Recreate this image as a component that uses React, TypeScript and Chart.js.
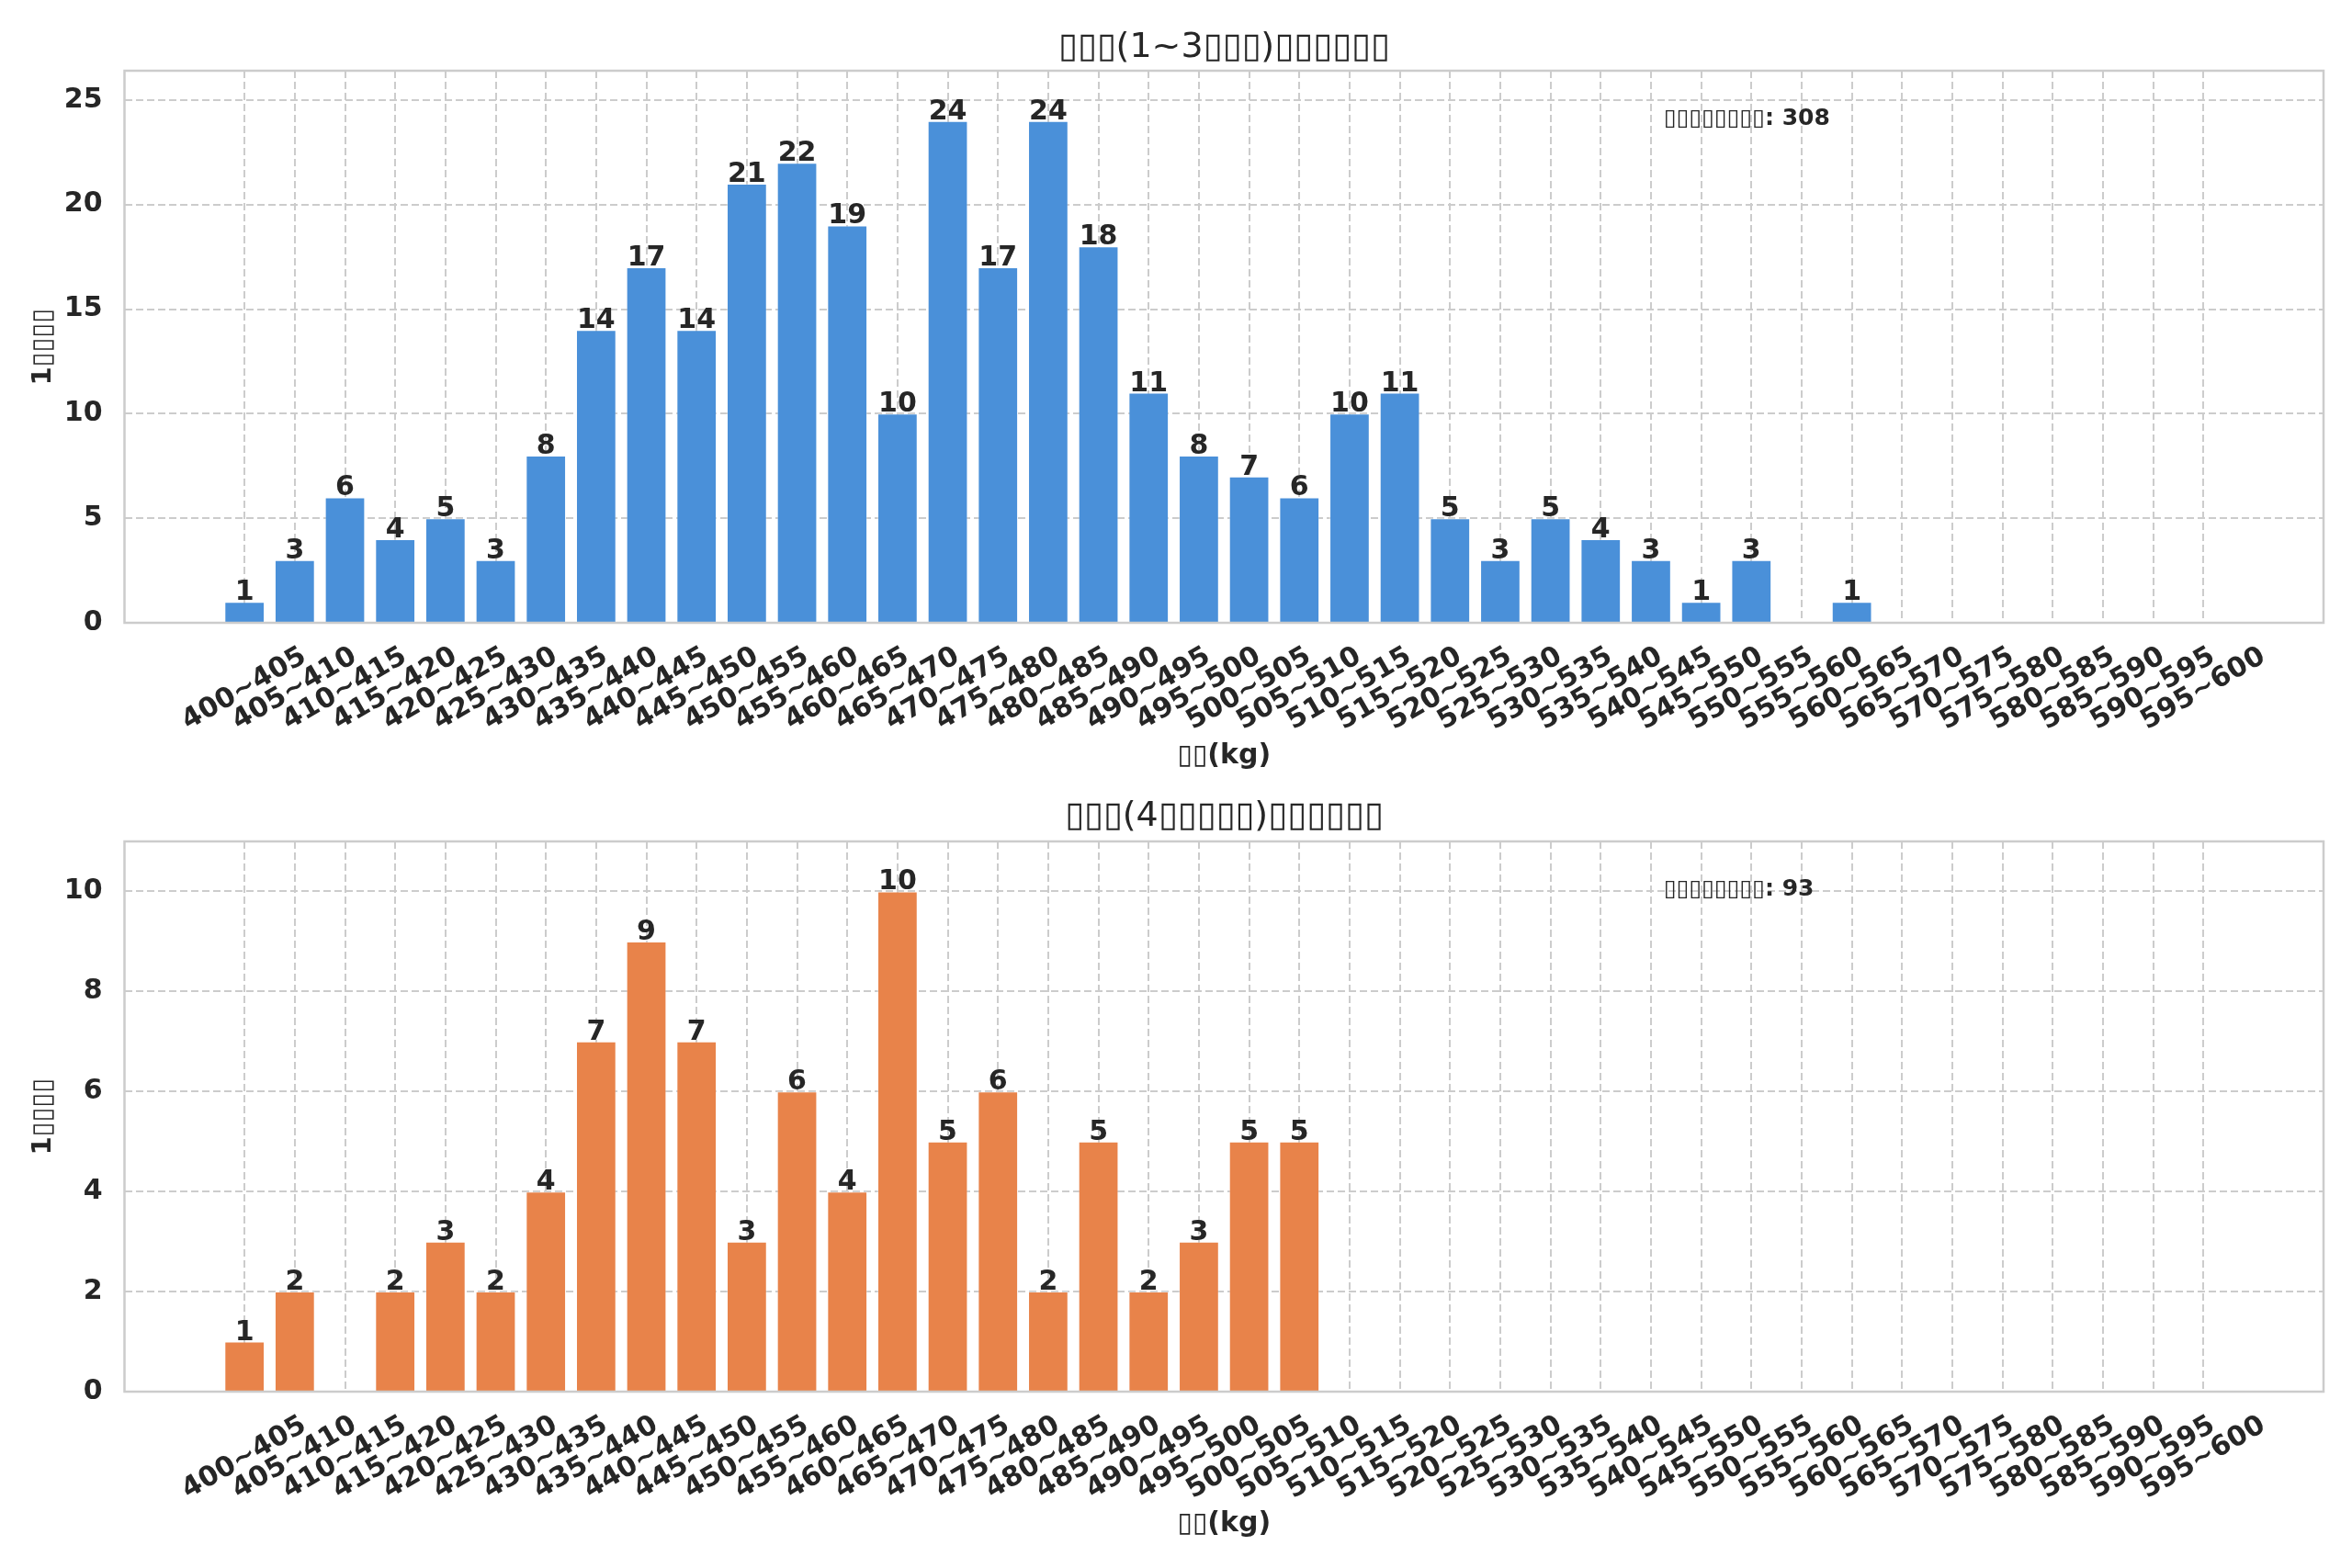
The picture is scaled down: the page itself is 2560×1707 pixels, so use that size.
import React, { useEffect, useRef } from "react";
import { Chart, registerables } from "chart.js";

Chart.register(...registerables);

// weight bins, 5 kg wide
const weightBins = [
  "400~405", "405~410", "410~415", "415~420", "420~425", "425~430", "430~435", "435~440",
  "440~445", "445~450", "450~455", "455~460", "460~465", "465~470", "470~475", "475~480",
  "480~485", "485~490", "490~495", "495~500", "500~505", "505~510", "510~515", "515~520",
  "520~525", "525~530", "530~535", "535~540", "540~545", "545~550", "550~555", "555~560",
  "560~565", "565~570", "570~575", "575~580", "580~585", "585~590", "590~595", "595~600",
];

// parity 1~3
const countsLow = [
  1, 3, 6, 4, 5, 3, 8, 14, 17, 14, 21, 22, 19, 10, 24, 17, 24, 18, 11, 8,
  7, 6, 10, 11, 5, 3, 5, 4, 3, 1, 3, 0, 1, 0, 0, 0, 0, 0, 0, 0,
];

// parity 4+
const countsHigh = [
  1, 2, 0, 2, 3, 2, 4, 7, 9, 7, 3, 6, 4, 10, 5, 6, 2, 5, 2, 3,
  5, 5, 0, 0, 0, 0, 0, 0, 0, 0, 0, 0, 0, 0, 0, 0, 0, 0, 0, 0,
];

const yTicksLow = [0, 5, 10, 15, 20, 25];
const yTicksHigh = [0, 2, 4, 6, 8, 10];

const titleLow = "▯▯▯(1~3▯▯▯)▯▯▯▯▯▯";
const titleHigh = "▯▯▯(4▯▯▯▯▯)▯▯▯▯▯▯";
const xTitle = "▯▯(kg)";
const yTitle = "1▯▯▯▯";
const notePrefix = "▯▯▯▯▯▯▯▯";

const FONT = "'DejaVu Sans', sans-serif";
const INK = "#262626";
const GRID = "#cccccc";

interface PanelProps {
  counts: number[];
  yTicks: number[];
  yMax: number;
  color: string;
  title: string;
  height: number;
  titlePad: { top: number; bottom: number };
  xAxisHeight: number;
  xTitlePad: number;
}

const overlay = {
  id: "overlay",
  // eslint-disable-next-line @typescript-eslint/no-explicit-any
  afterDatasetsDraw(chart: any) {
    const { ctx, chartArea } = chart;
    const ds = chart.data.datasets[0];
    const meta = chart.getDatasetMeta(0);
    ctx.save();
    ctx.font = `bold 30px ${FONT}`;
    ctx.fillStyle = INK;
    ctx.textAlign = "center";
    ctx.textBaseline = "alphabetic";
    // eslint-disable-next-line @typescript-eslint/no-explicit-any
    meta.data.forEach((bar: any, i: number) => {
      const v = ds.data[i].y;
      if (v > 0) ctx.fillText(String(v), bar.x, bar.y - 2);
    });

    // axes frame
    ctx.strokeStyle = GRID;
    ctx.lineWidth = 2.5;
    ctx.strokeRect(chartArea.left, chartArea.top, chartArea.width, chartArea.height);

    // total note
    const total = ds.data.reduce((s: number, p: { y: number }) => s + p.y, 0);
    ctx.font = `bold 25px ${FONT}`;
    ctx.textAlign = "left";
    ctx.textBaseline = "middle";
    ctx.fillText(
      `${notePrefix}: ${total}`,
      chartArea.left + 0.7 * chartArea.width,
      chartArea.top + 0.087 * chartArea.height
    );
    ctx.restore();
  },
};

const Panel = ({ counts, yTicks, yMax, color, title, height, titlePad, xAxisHeight, xTitlePad }: PanelProps) => {
  const canvasRef = useRef<HTMLCanvasElement>(null);

  useEffect(() => {
    if (!canvasRef.current) return;
    const chart = new Chart(canvasRef.current, {
      type: "bar",
      data: {
        datasets: [
          {
            data: counts.map((v, i) => ({ x: i, y: v })),
            backgroundColor: color,
            borderColor: "rgba(255,255,255,0.35)",
            borderWidth: 1,
            barPercentage: 0.8,
            categoryPercentage: 1.0,
          },
        ],
      },
      plugins: [overlay],
      options: {
        responsive: true,
        maintainAspectRatio: false,
        animation: false,
        layout: { autoPadding: false, padding: { left: 0, right: 31, top: 0, bottom: 0 } },
        plugins: {
          legend: { display: false },
          tooltip: { enabled: false },
          title: {
            display: true,
            fullSize: false,
            text: title,
            color: INK,
            font: { family: FONT, size: 38, weight: "normal", lineHeight: 1.2 },
            padding: titlePad,
          },
        },
        scales: {
          x: {
            type: "linear",
            offset: false,
            min: -2.39,
            max: 41.39,
            afterBuildTicks: (scale) => {
              scale.ticks = weightBins.map((_, i) => ({ value: i }));
            },
            afterFit: (scale) => {
              scale.height = xAxisHeight;
            },
            ticks: {
              autoSkip: false,
              minRotation: 30,
              maxRotation: 30,
              padding: 19,
              labelOffset: 65,
              color: INK,
              font: { family: FONT, size: 30, weight: "bold" },
              callback: (value) => weightBins[value as number] ?? "",
            },
            grid: { offset: false, color: GRID, lineWidth: 2, drawTicks: false },
            border: { display: false, dash: [8, 4] },
            title: {
              display: true,
              text: xTitle,
              color: INK,
              font: { family: FONT, size: 30, weight: "bold", lineHeight: 1.2 },
              padding: { top: 0, bottom: xTitlePad },
            },
          },
          y: {
            min: 0,
            max: yMax,
            afterBuildTicks: (scale) => {
              scale.ticks = yTicks.map((v) => ({ value: v }));
            },
            afterFit: (scale) => {
              scale.width = 135.5;
            },
            ticks: {
              padding: 24,
              color: INK,
              font: { family: FONT, size: 30, weight: "bold" },
            },
            grid: { color: GRID, lineWidth: 2, drawTicks: false },
            border: { display: false, dash: [8, 4] },
            title: {
              display: true,
              text: yTitle,
              color: INK,
              font: { family: FONT, size: 29, weight: "bold", lineHeight: 1.2 },
              padding: { top: 30, bottom: 0 },
            },
          },
        },
      },
    });
    return () => chart.destroy();
  }, [counts, yTicks, yMax, color, title, titlePad, xAxisHeight, xTitlePad]);

  return (
    <div style={{ position: "relative", width: "2560px", height: `${height}px` }}>
      <canvas ref={canvasRef} />
    </div>
  );
};

const padLow = { top: 29.2, bottom: 2.2 };
const padHigh = { top: 12.2, bottom: 4.2 };

export default function App() {
  return (
    <div style={{ position: "fixed", left: 0, top: 0, width: "2560px", height: "1707px", background: "#ffffff" }}>
      <Panel
        counts={countsLow}
        yTicks={yTicksLow}
        yMax={26.4}
        color="#4A90D9"
        title={titleLow}
        height={854}
        titlePad={padLow}
        xAxisHeight={176}
        xTitlePad={13}
      />
      <Panel
        counts={countsHigh}
        yTicks={yTicksHigh}
        yMax={11}
        color="#E8834A"
        title={titleHigh}
        height={853}
        titlePad={padHigh}
        xAxisHeight={192}
        xTitlePad={30}
      />
    </div>
  );
}
